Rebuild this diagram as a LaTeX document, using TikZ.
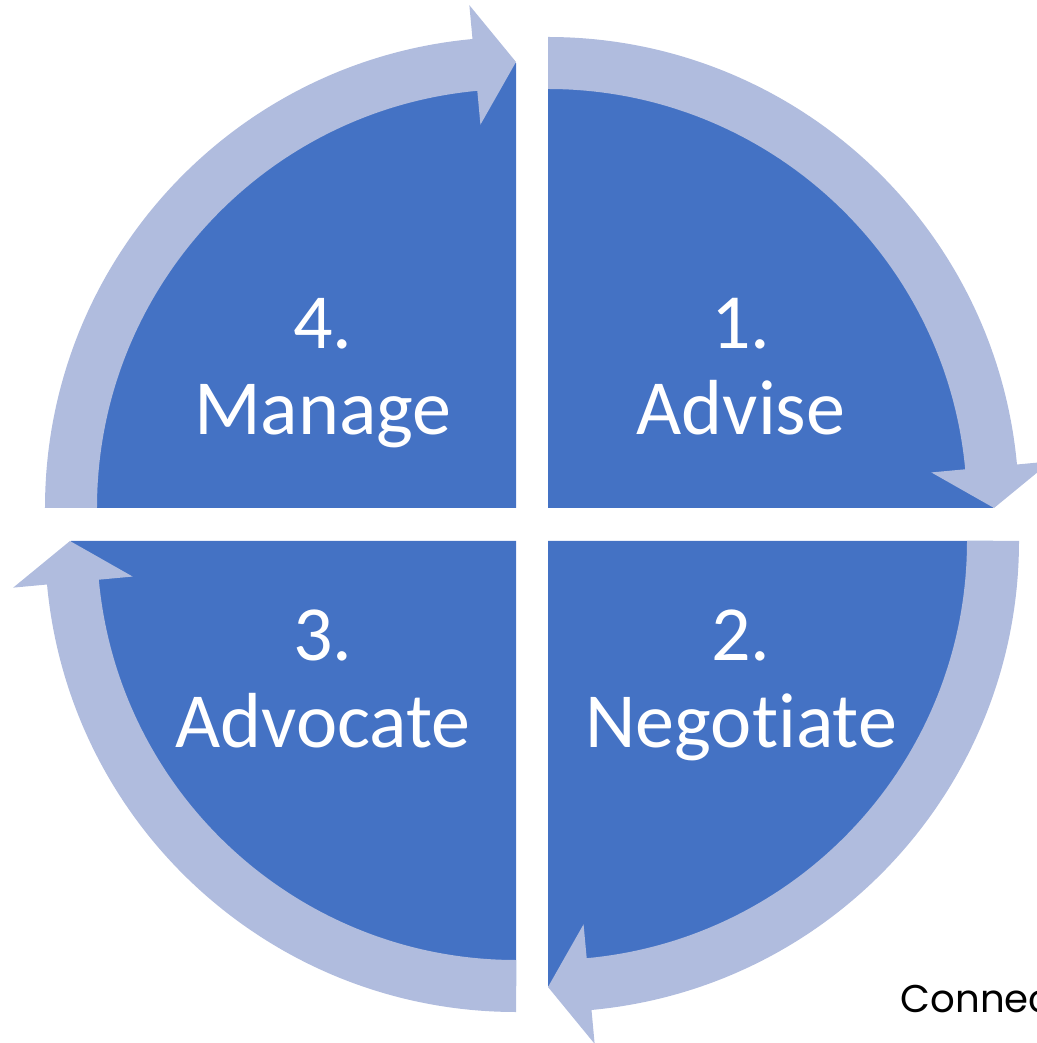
\documentclass[tikz,border=0pt]{standalone}
\usepackage{fontspec}
\setmainfont{Carlito}[RawFeature=-liga]
\newfontfamily\footfont{Poppins}
\usetikzlibrary{positioning}
\definecolor{pieblue}{RGB}{68,114,196}
\definecolor{ringblue}{RGB}{176,188,222}

\begin{document}
\begin{tikzpicture}[x=0.01cm, y=0.01cm]
		\tikzstyle{sector} = [fill=pieblue]
		\tikzstyle{cyclearrow} = [fill=ringblue]
		\tikzstyle{sectortext} = [text=white, align=center, inner sep=0pt, anchor=base,
		font=\fontsize{22.2pt}{24.6pt}\selectfont]
		\useasboundingbox (-532,-518) rectangle (504,525);
		% the four quarters
		\coordinate (cTR) at (16,17);
		\coordinate (cTL) at (-16,17);
		\coordinate (cBL) at (-16,-16);
		\coordinate (cBR) at (16,-16);
		\fill [sector] (cTR) -- ++(90:445) arc[start angle=90, end angle=0, radius=445] -- cycle;
		\fill [sector] (cBR) -- ++(0:445) arc[start angle=0, end angle=-90, radius=445] -- cycle;
		\fill [sector] (cBL) -- ++(-90:445) arc[start angle=-90, end angle=-180, radius=445] -- cycle;
		\fill [sector] (cTL) -- ++(180:445) arc[start angle=180, end angle=90, radius=445] -- cycle;
		% the arrows round the cycle
		\begin{scope}[shift={(cTR)}]
		\fill [cyclearrow] (90:471) arc[start angle=90, end angle=5.3, radius=471]
			-- (5.3:505) -- (0:446) -- (5.3:385) -- (5.3:419)
			arc[start angle=5.3, end angle=90, radius=419] -- cycle;
		\end{scope}
		\begin{scope}[shift={(cBR)}]
		\fill [cyclearrow] (0:471) arc[start angle=0, end angle=-84.7, radius=471]
			-- (-84.7:505) -- (-90:446) -- (-84.7:385) -- (-84.7:419)
			arc[start angle=-84.7, end angle=0, radius=419] -- cycle;
		\end{scope}
		\begin{scope}[shift={(cBL)}]
		\fill [cyclearrow] (-90:471) arc[start angle=-90, end angle=-174.7, radius=471]
			-- (-174.7:505) -- (-180:446) -- (-174.7:385) -- (-174.7:419)
			arc[start angle=-174.7, end angle=-90, radius=419] -- cycle;
		\end{scope}
		\begin{scope}[shift={(cTL)}]
		\fill [cyclearrow] (180:471) arc[start angle=180, end angle=95.3, radius=471]
			-- (95.3:505) -- (90:446) -- (95.3:385) -- (95.3:419)
			arc[start angle=95.3, end angle=180, radius=419] -- cycle;
		\end{scope}
		% texts
		\node (advise) [sectortext] at (209,90) {1.\\Advise};
		\node (negotiate) [sectortext] at (209,-222) {2.\\Negotiate};
		\node (advocate) [sectortext] at (-209,-222) {3.\\Advocate};
		\node (manage) [sectortext] at (-209,90) {4.\\Manage};
		\node (footer) [anchor=base west, inner sep=0pt, font=\footfont\fontsize{11pt}{13pt}\selectfont]
			at (368,-487) {Connec};
\end{tikzpicture}
\end{document}
